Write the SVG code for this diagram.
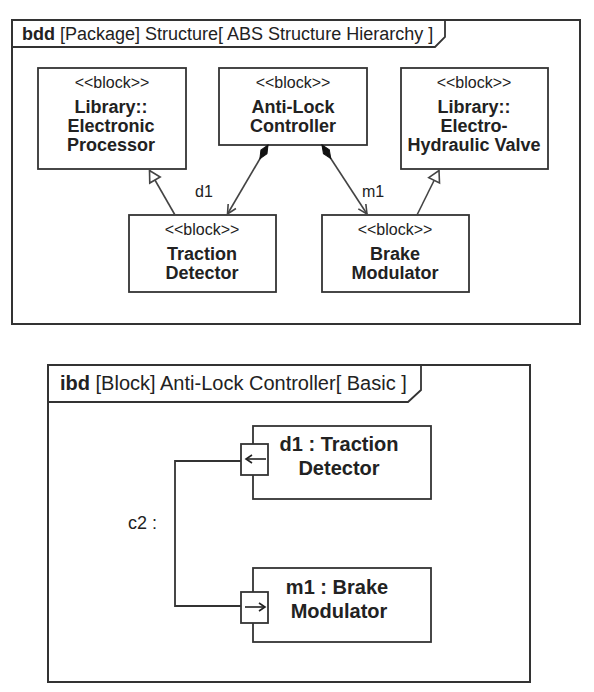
<svg xmlns="http://www.w3.org/2000/svg" width="594" height="692" viewBox="0 0 594 692">
<style>
.frame{fill:#fff;stroke:#333;stroke-width:2}
.box{fill:#fff;stroke:#333;stroke-width:1.8}
.ln{fill:none;stroke:#444;stroke-width:1.6}
text{font-family:"Liberation Sans",Arial,sans-serif;fill:#222}
.st{font-size:16px;text-anchor:middle}
.nm{font-size:18px;font-weight:bold;text-anchor:middle}
.lbl{font-size:16px;text-anchor:middle}
.t1{font-size:18px}
.t2{font-size:20px}
.pn{font-size:20px;font-weight:bold;text-anchor:middle}
</style>
<defs>
<marker id="diamond" markerUnits="userSpaceOnUse" markerWidth="20" markerHeight="10" viewBox="-1 -5 20 10" refX="0" refY="0" orient="auto">
<path d="M0,0 L8,-3.5 L16,0 L8,3.5 Z" fill="#111" stroke="#111" stroke-width="1"/>
</marker>
<marker id="open" markerUnits="userSpaceOnUse" markerWidth="14" markerHeight="12" viewBox="-12 -6 14 12" refX="0" refY="0" orient="auto">
<path d="M-9,-4.5 L0,0 L-9,4.5" fill="none" stroke="#444" stroke-width="1.6"/>
</marker>
<marker id="tri" markerUnits="userSpaceOnUse" markerWidth="16" markerHeight="16" viewBox="-13 -8 16 16" refX="0" refY="0" orient="auto">
<path d="M-11,-6 L0,0 L-11,6 Z" fill="#fff" stroke="#444" stroke-width="1.6"/>
</marker>
<marker id="sarrow" markerUnits="userSpaceOnUse" markerWidth="12" markerHeight="10" viewBox="-10 -5 12 10" refX="0" refY="0" orient="auto">
<path d="M-6,-4 L0,0 L-6,4" fill="none" stroke="#222" stroke-width="1.6"/>
</marker>
</defs>
<rect width="594" height="692" fill="#fff"/>

<g id="bdd-frame">
<rect class="frame" x="12" y="20" width="568" height="304"/>
<path class="ln" d="M12,47 H435 L445,37 V20" style="stroke:#333;stroke-width:1.8"/>
<text class="t1" x="22" y="40"><tspan font-weight="bold">bdd</tspan> [Package] Structure[ ABS Structure Hierarchy ]</text>
</g>

<g id="electronic-processor">
<rect class="box" x="38" y="68" width="148" height="101"/>
<text class="st" x="112" y="88">&lt;&lt;block&gt;&gt;</text>
<text class="nm" x="111" y="113">Library::</text>
<text class="nm" x="111" y="132">Electronic</text>
<text class="nm" x="111" y="151">Processor</text>
</g>

<g id="anti-lock-controller">
<rect class="box" x="219" y="68" width="148" height="77"/>
<text class="st" x="293" y="88">&lt;&lt;block&gt;&gt;</text>
<text class="nm" x="293" y="113">Anti-Lock</text>
<text class="nm" x="293" y="132">Controller</text>
</g>

<g id="electro-hydraulic-valve">
<rect class="box" x="401" y="68" width="147" height="101"/>
<text class="st" x="474" y="88">&lt;&lt;block&gt;&gt;</text>
<text class="nm" x="474" y="113">Library::</text>
<text class="nm" x="474" y="132">Electro-</text>
<text class="nm" x="474" y="151">Hydraulic Valve</text>
</g>

<g id="traction-detector">
<rect class="box" x="129" y="215" width="147" height="77"/>
<text class="st" x="202" y="235">&lt;&lt;block&gt;&gt;</text>
<text class="nm" x="202" y="260">Traction</text>
<text class="nm" x="202" y="279">Detector</text>
</g>

<g id="brake-modulator">
<rect class="box" x="322" y="215" width="147" height="77"/>
<text class="st" x="395" y="235">&lt;&lt;block&gt;&gt;</text>
<text class="nm" x="395" y="260">Brake</text>
<text class="nm" x="395" y="279">Modulator</text>
</g>

<g id="bdd-connectors">
<line class="ln" x1="175" y1="215" x2="149.5" y2="170.5" marker-end="url(#tri)"/>
<line class="ln" x1="417" y1="215" x2="439" y2="170.5" marker-end="url(#tri)"/>
<line class="ln" x1="268" y1="145" x2="227.5" y2="214" marker-start="url(#diamond)" marker-end="url(#open)"/>
<line class="ln" x1="322" y1="145" x2="367" y2="214" marker-start="url(#diamond)" marker-end="url(#open)"/>
<text class="lbl" x="204" y="197">d1</text>
<text class="lbl" x="373" y="197">m1</text>
</g>

<g id="ibd-frame">
<rect class="frame" x="48" y="365" width="482" height="317"/>
<path class="ln" d="M48,402 H408 L421,390 V365" style="stroke:#333;stroke-width:1.8"/>
<text class="t2" x="60" y="390"><tspan font-weight="bold">ibd</tspan> [Block] Anti-Lock Controller[ Basic ]</text>
</g>

<g id="d1-traction-detector">
<rect class="box" x="253" y="426" width="178" height="73"/>
<text class="pn" x="339" y="451">d1 : Traction</text>
<text class="pn" x="339" y="475">Detector</text>
</g>

<g id="d1-port">
<rect class="box" x="241" y="444" width="27" height="31"/>
<line class="ln" x1="266" y1="459" x2="246" y2="459" marker-end="url(#sarrow)" style="stroke:#222"/>
</g>

<g id="m1-brake-modulator">
<rect class="box" x="253" y="568" width="178" height="74"/>
<text class="pn" x="337" y="594">m1 : Brake</text>
<text class="pn" x="339" y="618">Modulator</text>
</g>

<g id="m1-port">
<rect class="box" x="241" y="592" width="27" height="31"/>
<line class="ln" x1="245" y1="607" x2="265" y2="607" marker-end="url(#sarrow)" style="stroke:#222"/>
</g>

<g id="ibd-connectors">
<path class="ln" d="M241,461 H175 V606 H241" style="stroke:#333;stroke-width:1.8"/>
<text class="t1" x="128" y="529">c2 :</text>
</g>
</svg>
